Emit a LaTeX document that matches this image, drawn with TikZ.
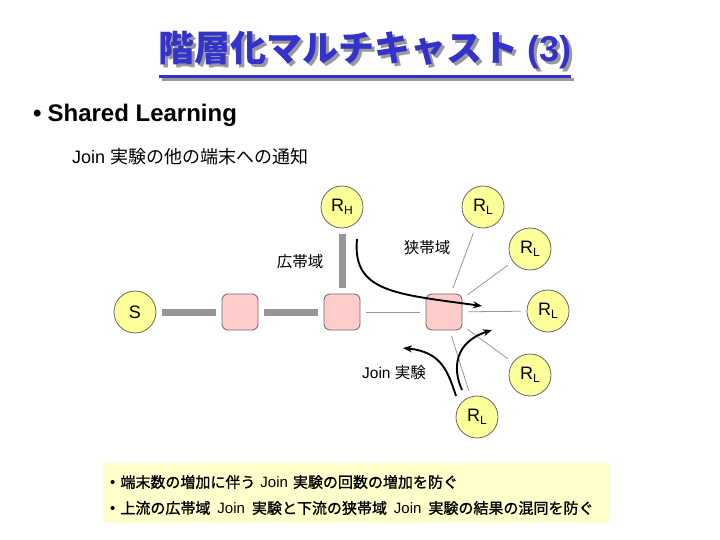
\documentclass[tikz,border=0pt]{standalone}
\usepackage{fontspec}
\setmainfont{Liberation Sans}
\newfontfamily\jp{Noto Sans CJK JP}
\newfontfamily\jpm[FakeBold=1.2]{Noto Sans CJK JP}
\usetikzlibrary{arrows.meta}
\definecolor{titleblue}{RGB}{51,51,204}
\definecolor{hostfill}{RGB}{255,255,153}
\definecolor{routerfill}{RGB}{255,204,204}
\definecolor{linkgray}{RGB}{150,150,150}
\definecolor{boxfill}{RGB}{255,255,204}
\tikzset{
  host/.style={circle,draw=black!60,line width=0.8pt,fill=hostfill,minimum size=42pt,inner sep=0pt,font=\fontsize{18}{18}\selectfont},
  router/.style={rectangle,rounded corners=6pt,draw=black!60,line width=0.8pt,fill=routerfill,minimum size=36pt,inner sep=0pt},
  thick link/.style={draw=linkgray,line width=7pt,shorten <=6pt,shorten >=6pt},
  thin link/.style={draw=linkgray,line width=0.8pt,shorten <=6pt,shorten >=6pt},
  flow/.style={draw=black,line width=1.9pt,-{Stealth[length=9pt,width=7pt]}},
  lbl/.style={font=\fontsize{15.5}{15.5}\selectfont,inner sep=0pt},
}
\newcommand{\sbs}[1]{\raisebox{-0.35ex}{\fontsize{12}{12}\selectfont #1}}
\newcommand{\jb}[1]{{\jpm #1}}
\newcommand{\ttltext}{\jp 階層化マルチキャスト {\rmfamily (3)}}
\begin{document}
\begin{tikzpicture}[x=1pt,y=-1pt]
\useasboundingbox (0,0) rectangle (720,540);
% title with shadow
\node[text=titleblue,font=\fontsize{36}{36}\selectfont\bfseries,inner sep=0pt] (title) at (365,52)
  {\makebox[0pt][l]{\hspace{3pt}\raisebox{-3pt}{\color{black!40}\ttltext}}\ttltext};
\draw[black!40,line width=2.5pt] ([xshift=3pt,yshift=-7pt]title.south west) -- ([xshift=3pt,yshift=-7pt]title.south east);
\draw[titleblue,line width=2.5pt] ([yshift=-4pt]title.south west) -- ([yshift=-4pt]title.south east);
% headings
\node[anchor=west,inner sep=0pt,font=\fontsize{24}{24}\selectfont\bfseries] (head) at (33,115) {•\hspace{6pt}Shared Learning};
\node[anchor=west,inner sep=0pt,font=\fontsize{18}{18}\selectfont] (sub) at (72,157) {Join {\jp 実験の他の端末への通知}};
% nodes
\node[host] (S) at (135,312) {S};
\node[host] (RH) at (342,207) {R\sbs{H}};
\node[host] (RL1) at (483,207) {R\sbs{L}};
\node[host] (RL2) at (530,249) {R\sbs{L}};
\node[host] (RL3) at (548,311) {R\sbs{L}};
\node[host] (RL4) at (530,375) {R\sbs{L}};
\node[host] (RL5) at (477,417) {R\sbs{L}};
\node[router] (R1) at (240,312) {};
\node[router] (R2) at (342,312) {};
\node[router] (R3) at (444,312) {};
% links
\draw[thick link] (S) -- (R1);
\draw[thick link] (R1) -- (R2);
\draw[thick link] (RH) -- (R2);
\draw[thin link] (R2) -- (R3);
\foreach \t in {RL1,RL2,RL3,RL4,RL5} \draw[thin link] (R3) -- (\t);
% labels
\node[lbl] (wide) at (300,262) {\jp 広帯域};
\node[lbl] (narrow) at (427,248) {\jp 狭帯域};
\node[lbl] (join) at (394,373) {Join {\jp 実験}};
% flows
\coordinate (f1s) at (357,239);
\coordinate (f1e) at (482,306);
\coordinate (f2s) at (456,396);
\coordinate (f2e) at (403,348);
\coordinate (f3s) at (462,390);
\coordinate (f3e) at (492,330);
\draw[flow] (f1s) .. controls (352,292) and (395,294) .. (f1e);
\draw[flow] (f2s) .. controls (448,372) and (442,352) .. (f2e);
\draw[flow] (f3s) .. controls (452,368) and (455,342) .. (f3e);
% bottom box
\node[fill=boxfill,anchor=north west,minimum width=507pt,minimum height=60pt,inner sep=0pt] (box) at (103,463) {};
\node[anchor=west,inner sep=0pt,font=\fontsize{15}{15}\selectfont] (b1) at (110,482) {•\hspace{5pt}\jb{端末数の増加に伴う}\hspace{5pt}Join\hspace{5pt}\jb{実験の回数の増加を防ぐ}};
\node[anchor=west,inner sep=0pt,font=\fontsize{15}{15}\selectfont] (b2) at (110,508) {•\hspace{5pt}\jb{上流の広帯域}\hspace{7pt}Join\hspace{7pt}\jb{実験と下流の狭帯域}\hspace{7pt}Join\hspace{7pt}\jb{実験の結果の混同を防ぐ}};
\end{tikzpicture}
\end{document}
